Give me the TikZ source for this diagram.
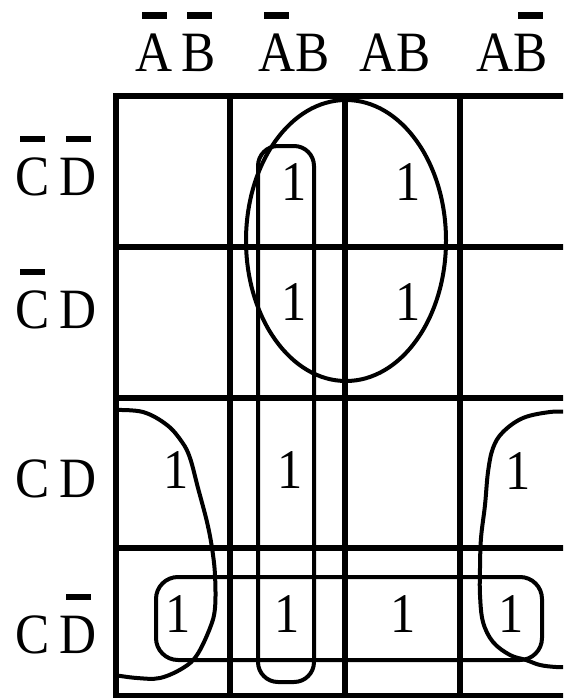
\documentclass[tikz,border=0pt]{standalone}
\usepackage{fontspec}
\setmainfont{Liberation Serif}[FakeStretch=0.9]
\newcommand\ovb[1]{\ooalign{#1\cr\hidewidth\rule[53pt]{25pt}{6.5pt}\hidewidth\cr}}
\begin{document}
\begin{tikzpicture}[x=1pt,y=-1pt,
  gridline/.style={line width=6pt},
  loopline/.style={line width=4pt},
  lab/.style={anchor=base, inner sep=0pt, font=\fontsize{57}{60}\selectfont},
  one/.style={anchor=base, inner sep=0pt, font=\fontsize{56}{60}\selectfont}]
\useasboundingbox (0,0) rectangle (563,698);
\clip (0,0) rectangle (563,698);
% grid
\draw[gridline] (116,96) rectangle (574,696);
\foreach \x in {230,345,459.5} \draw[gridline] (\x,96) -- (\x,696);
\foreach \y in {246.5,397.5,548} \draw[gridline] (116,\y) -- (574,\y);
% column headers
\node[lab] (h1) at (176,72) {\ovb{A}\hspace{9pt}\ovb{B}};
\node[lab] (h2) at (294,72) {\ovb{A}B};
\node[lab] (h3) at (395.5,72) {AB};
\node[lab] (h4) at (512,72) {A\ovb{B}};
% row headers
\node[lab] (v1) at (56,195) {\ovb{C}\hspace{10pt}\ovb{D}};
\node[lab] (v2) at (56,328) {\ovb{C}\hspace{10pt}D};
\node[lab] (v3) at (56,497) {C\hspace{10pt}D};
\node[lab] (v4) at (56,653) {C\hspace{10pt}\ovb{D}};
% ones
\node[one] (o12) at (294,200) {1};
\node[one] (o13) at (408,200) {1};
\node[one] (o22) at (294,320) {1};
\node[one] (o23) at (408,320) {1};
\node[one] (o31) at (176,488) {1};
\node[one] (o32) at (290,488) {1};
\node[one] (o34) at (518,489) {1};
\node[one] (o41) at (178,632) {1};
\node[one] (o42) at (287,632) {1};
\node[one] (o43) at (403,632) {1};
\node[one] (o44) at (511,632) {1};
% groups
\draw[loopline] (346,240.5) ellipse [x radius=100pt, y radius=140.5pt];
\draw[loopline, rounded corners=20pt] (258,146) rectangle (314,682);
\draw[loopline, rounded corners=22pt] (156,577) rectangle (542,660);
\draw[loopline] plot[smooth, tension=0.6] coordinates {(114,410) (143,412) (167,425) (182,442) (190,458) (198,488) (207,522) (212,548) (215,575) (215,608) (210,628) (197,655) (183,668) (160,678) (137,678) (114,675)};
\draw[loopline] plot[smooth, tension=0.6] coordinates {(568,412) (550,412) (523,418) (503,432) (493,448) (488,472) (485,505) (481,538) (480,568) (480,595) (483,622) (493,642) (510,655) (526,660) (540,665) (556,667) (568,667)};
\end{tikzpicture}
\end{document}
